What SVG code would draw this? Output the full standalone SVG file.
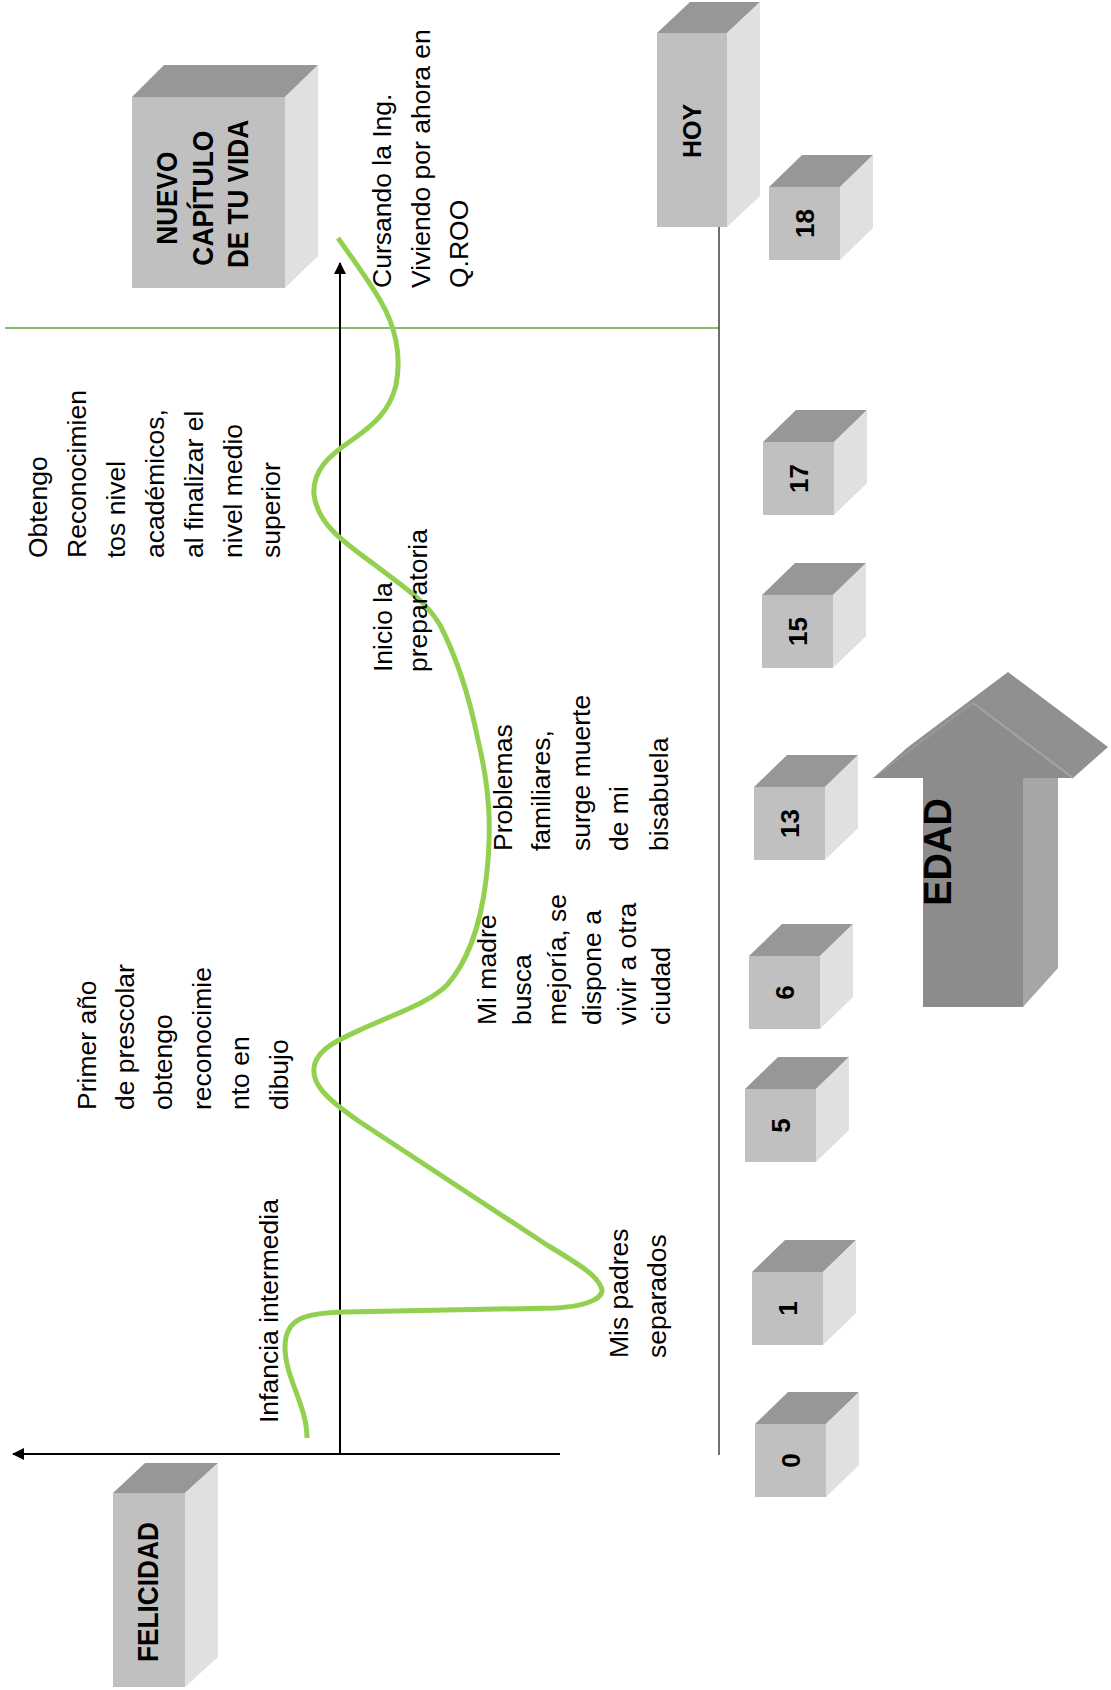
<svg xmlns="http://www.w3.org/2000/svg" width="1111" height="1690" viewBox="0 0 1111 1690">
<style>
.front{fill:#c0c0c0}
.top{fill:#979797}
.side{fill:#e0e0e0}
.lbl{font-family:"Liberation Sans",Arial,sans-serif;font-weight:bold;fill:#000}
.num{font-family:"Liberation Sans",Arial,sans-serif;font-weight:bold;font-size:26px;fill:#000}
.txt{font-family:"Liberation Sans",Arial,sans-serif;font-size:26.5px;fill:#000}
.axis{stroke:#000;stroke-width:2;fill:none}
</style>
<defs>
<marker id="ah" viewBox="0 0 12 12" refX="11" refY="6" markerWidth="12" markerHeight="12" markerUnits="userSpaceOnUse" orient="auto">
<path d="M0,0 L12,6 L0,12 z" fill="#000"/>
</marker>
</defs>
<rect width="1111" height="1690" fill="#fff"/>

<g id="connectors">
<line x1="5" y1="328" x2="719" y2="328" stroke="#5aa83c" stroke-width="1.6"/>
<line x1="719" y1="226" x2="719" y2="1455" stroke="#222" stroke-width="1.3"/>
<line class="axis" x1="560" y1="1454" x2="13" y2="1454" marker-end="url(#ah)"/>
<line class="axis" x1="340" y1="1454" x2="340" y2="263" marker-end="url(#ah)"/>
<path id="curve" d="M307,1438 C307,1405 285,1378 285,1347 C285,1318 305,1313 345,1312 L555,1308 C592,1306 606,1296 601,1287 C597,1276 582,1266 547,1245 L360,1122 C325,1098 309,1082 315,1063 C320,1048 338,1040 362,1029 C400,1012 430,1002 447,985 C465,965 480,930 486,880 C492,830 490,790 478,740 C470,700 458,660 440,625 C425,600 405,588 375,565 C345,543 318,525 314,495 C312,470 330,455 352,440 C375,424 390,410 396,385 C402,355 395,325 380,300 C367,278 352,258 338,238" fill="none" stroke="#92d050" stroke-width="5"/>
</g>

<g id="hoy">
<polygon class="top" points="657,33 690,2 760,2 727,33"/>
<polygon class="side" points="727,33 760,2 760,196 727,227"/>
<rect class="front" x="657" y="33" width="70" height="194"/>
<text class="lbl" font-size="25" text-anchor="middle" transform="translate(692,131) rotate(-90)" dy="9">HOY</text>
</g>

<g id="nuevo">
<polygon class="top" points="132,97 164,65 318,65 285,97"/>
<polygon class="side" points="285,97 318,65 318,256 285,288"/>
<rect class="front" x="132" y="97" width="153" height="191"/>
<text class="lbl" font-size="30" text-anchor="middle" transform="rotate(-90)">
<tspan x="-194" y="177" textLength="93" lengthAdjust="spacingAndGlyphs">NUEVO</tspan>
<tspan x="-194" y="213" textLength="135" lengthAdjust="spacingAndGlyphs">CAPÍTULO</tspan>
<tspan x="-194" y="248" textLength="148" lengthAdjust="spacingAndGlyphs">DE TU VIDA</tspan>
</text>
</g>

<g id="felicidad">
<polygon class="top" points="113,1493 145,1463 218,1463 185,1493"/>
<polygon class="side" points="185,1493 218,1463 218,1657 185,1687"/>
<rect class="front" x="113" y="1493" width="72" height="194"/>
<text class="lbl" font-size="30" text-anchor="middle" transform="rotate(-90)"><tspan x="-1592" y="158" textLength="140" lengthAdjust="spacingAndGlyphs">FELICIDAD</tspan></text>
</g>

<g id="edad">
<polygon points="923,1007 923,778 873,778 973,703 1073,778 1023,778 1023,1007" fill="#8c8c8c"/>
<polygon points="873,778 908,747 1008,672 1108,747 1073,778 973,703" fill="#909090"/>
<polygon points="1023,778 1058,778 1058,968 1023,1007" fill="#a6a6a6"/>
<line x1="973" y1="703" x2="1073" y2="778" stroke="#a4a4a4" stroke-width="2"/>
<text class="lbl" font-size="38" text-anchor="middle" transform="translate(937,852) rotate(-90)" dy="13.6">EDAD</text>
</g>

<g id="age-0">
<polygon class="top" points="755,1424 788,1392 859,1392 826,1424"/>
<polygon class="side" points="826,1424 859,1392 859,1465 826,1497"/>
<rect class="front" x="755" y="1424" width="71" height="73"/>
<text class="num" text-anchor="middle" transform="translate(790.5,1460.5) rotate(-90)" dy="9.3">0</text>
</g>
<g id="age-1">
<polygon class="top" points="752,1272 785,1240 856,1240 823,1272"/>
<polygon class="side" points="823,1272 856,1240 856,1313 823,1345"/>
<rect class="front" x="752" y="1272" width="71" height="73"/>
<text class="num" text-anchor="middle" transform="translate(787.5,1308.5) rotate(-90)" dy="9.3">1</text>
</g>
<g id="age-5">
<polygon class="top" points="745,1089 778,1057 849,1057 816,1089"/>
<polygon class="side" points="816,1089 849,1057 849,1130 816,1162"/>
<rect class="front" x="745" y="1089" width="71" height="73"/>
<text class="num" text-anchor="middle" transform="translate(780.5,1125.5) rotate(-90)" dy="9.3">5</text>
</g>
<g id="age-6">
<polygon class="top" points="749,956 782,924 853,924 820,956"/>
<polygon class="side" points="820,956 853,924 853,997 820,1029"/>
<rect class="front" x="749" y="956" width="71" height="73"/>
<text class="num" text-anchor="middle" transform="translate(784.5,992.5) rotate(-90)" dy="9.3">6</text>
</g>
<g id="age-13">
<polygon class="top" points="754,787 787,755 858,755 825,787"/>
<polygon class="side" points="825,787 858,755 858,828 825,860"/>
<rect class="front" x="754" y="787" width="71" height="73"/>
<text class="num" text-anchor="middle" transform="translate(789.5,823.5) rotate(-90)" dy="9.3">13</text>
</g>
<g id="age-15">
<polygon class="top" points="762,595 795,563 866,563 833,595"/>
<polygon class="side" points="833,595 866,563 866,636 833,668"/>
<rect class="front" x="762" y="595" width="71" height="73"/>
<text class="num" text-anchor="middle" transform="translate(797.5,631.5) rotate(-90)" dy="9.3">15</text>
</g>
<g id="age-17">
<polygon class="top" points="763,442 796,410 867,410 834,442"/>
<polygon class="side" points="834,442 867,410 867,483 834,515"/>
<rect class="front" x="763" y="442" width="71" height="73"/>
<text class="num" text-anchor="middle" transform="translate(798.5,478.5) rotate(-90)" dy="9.3">17</text>
</g>
<g id="age-18">
<polygon class="top" points="769,187 802,155 873,155 840,187"/>
<polygon class="side" points="840,187 873,155 873,228 840,260"/>
<rect class="front" x="769" y="187" width="71" height="73"/>
<text class="num" text-anchor="middle" transform="translate(804.5,223.5) rotate(-90)" dy="9.3">18</text>
</g>

<g id="t-obtengo">
<text class="txt" transform="rotate(-90)">
<tspan x="-558" y="47">Obtengo</tspan>
<tspan x="-558" y="86">Reconocimien</tspan>
<tspan x="-558" y="125">tos nivel</tspan>
<tspan x="-558" y="164">académicos,</tspan>
<tspan x="-558" y="203">al finalizar el</tspan>
<tspan x="-558" y="242">nivel medio</tspan>
<tspan x="-558" y="280">superior</tspan>
</text>
</g>
<g id="t-primer">
<text class="txt" transform="rotate(-90)">
<tspan x="-1110" y="96">Primer año</tspan>
<tspan x="-1110" y="134">de prescolar</tspan>
<tspan x="-1110" y="172">obtengo</tspan>
<tspan x="-1110" y="211">reconocimie</tspan>
<tspan x="-1110" y="249">nto en</tspan>
<tspan x="-1110" y="288">dibujo</tspan>
</text>
</g>
<g id="t-infancia">
<text class="txt" transform="rotate(-90)"><tspan x="-1423" y="278">Infancia intermedia</tspan></text>
</g>
<g id="t-padres">
<text class="txt" transform="rotate(-90)">
<tspan x="-1358" y="628">Mis padres</tspan>
<tspan x="-1358" y="666">separados</tspan>
</text>
</g>
<g id="t-madre">
<text class="txt" transform="rotate(-90)">
<tspan x="-1025" y="496">Mi madre</tspan>
<tspan x="-1025" y="531">busca</tspan>
<tspan x="-1025" y="566">mejoría, se</tspan>
<tspan x="-1025" y="601">dispone a</tspan>
<tspan x="-1025" y="636">vivir a otra</tspan>
<tspan x="-1025" y="670">ciudad</tspan>
</text>
</g>
<g id="t-problemas">
<text class="txt" transform="rotate(-90)">
<tspan x="-851" y="512">Problemas</tspan>
<tspan x="-851" y="550">familiares,</tspan>
<tspan x="-851" y="590">surge muerte</tspan>
<tspan x="-851" y="628">de mi</tspan>
<tspan x="-851" y="668">bisabuela</tspan>
</text>
</g>
<g id="t-inicio">
<text class="txt" transform="rotate(-90)">
<tspan x="-672" y="392">Inicio la</tspan>
<tspan x="-672" y="427">preparatoria</tspan>
</text>
</g>
<g id="t-cursando">
<text class="txt" transform="rotate(-90)">
<tspan x="-288" y="391">Cursando la Ing.</tspan>
<tspan x="-288" y="430">Viviendo por ahora en</tspan>
<tspan x="-288" y="468">Q.ROO</tspan>
</text>
</g>
</svg>
